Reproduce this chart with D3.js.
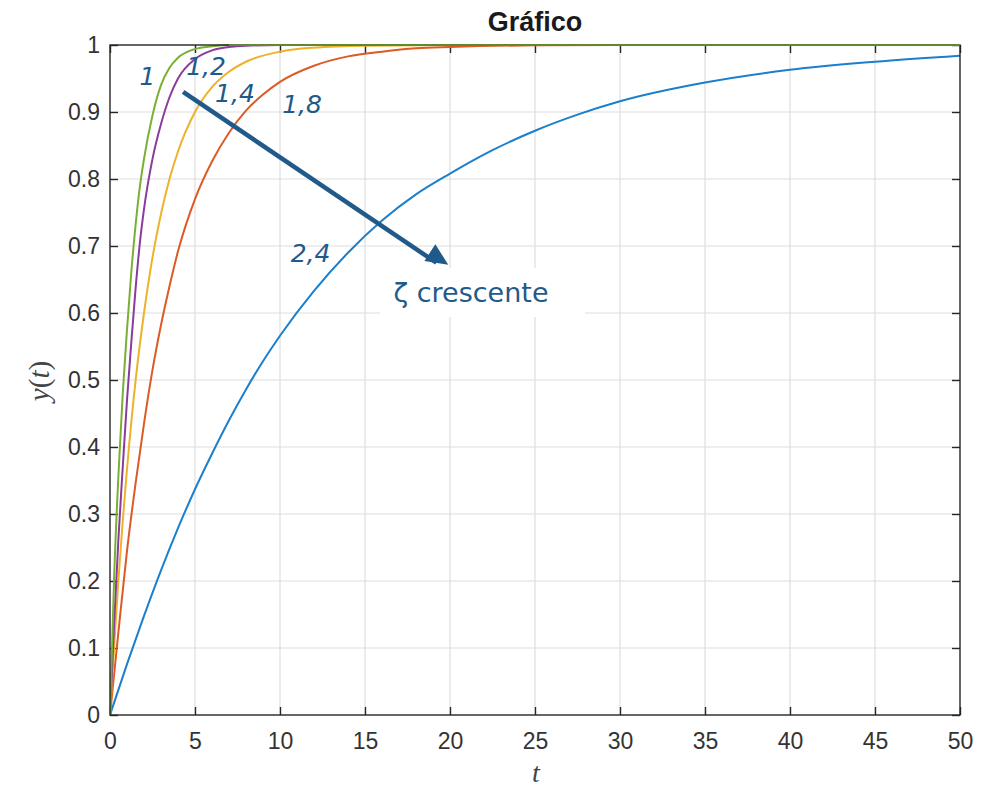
<!DOCTYPE html>
<html><head><meta charset="utf-8">
<script src="https://cdn.jsdelivr.net/npm/d3@7"></script>
<style>
html,body{margin:0;padding:0;background:#fff;}
svg{display:block;}
</style></head>
<body>
<svg id="chart" width="997" height="787"></svg>
<script>
// ---- data ----
const zetaLabels = ["1", "1,2", "1,4", "1,8", "2,4"];
const seriesColors = ["#7aaf35", "#8a3c9a", "#eeb22a", "#dc5a24", "#1a7fcc"];
const xTicks = [0,5,10,15,20,25,30,35,40,45,50];
const yTicks = [0,0.1,0.2,0.3,0.4,0.5,0.6,0.7,0.8,0.9,1];
const zeta10 = [[0,0],[0.12,0.1],[0.25,0.21],[0.5,0.36],[0.75,0.48],[1,0.575],[1.25,0.66],[1.5,0.73],[1.75,0.787],[2,0.83],[2.5,0.895],[3,0.94],[3.5,0.966],[4,0.981],[5,0.994],[6,0.998],[7,1],[50,1]];
const zeta12 = [[0,0],[0.25,0.14],[0.5,0.265],[0.75,0.37],[1,0.47],[1.25,0.555],[1.5,0.635],[1.75,0.703],[2,0.755],[2.5,0.83],[3,0.882],[3.5,0.922],[4,0.95],[5,0.979],[6,0.992],[7,0.997],[8,0.999],[10,1],[50,1]];
const zeta14 = [[0,0],[0.25,0.105],[0.5,0.203],[0.75,0.29],[1,0.367],[1.5,0.498],[2,0.6],[2.5,0.683],[3,0.748],[3.5,0.8],[4,0.841],[5,0.9],[6,0.937],[7,0.96],[8,0.975],[10,0.99],[12,0.996],[15,0.999],[20,1],[50,1]];
const zeta18 = [[0,0],[0.5,0.125],[1,0.245],[1.5,0.345],[2,0.435],[2.5,0.515],[3,0.582],[3.5,0.64],[4,0.692],[5,0.77],[6,0.826],[7,0.869],[8,0.902],[9,0.926],[10,0.945],[12,0.969],[14,0.983],[16,0.99],[18,0.995],[20,0.997],[25,0.9995],[30,1],[50,1]];
const zeta24 = [[0,0],[1,0.076],[2,0.148],[3,0.216],[4,0.279],[5,0.337],[6,0.39],[7,0.44],[8,0.486],[9,0.528],[10,0.566],[12,0.633],[14,0.69],[16,0.738],[18,0.777],[20,0.808],[22.5,0.843],[25,0.872],[27.5,0.896],[30,0.916],[35,0.944],[40,0.963],[45,0.975],[50,0.984]];
const allSeries = [zeta24, zeta18, zeta14, zeta12, zeta10];
const drawColors = [seriesColors[4], seriesColors[3], seriesColors[2], seriesColors[1], seriesColors[0]];
// label anchor positions in data units (t, y)
const labelT = [2.2, 5.65, 7.35, 11.3, 11.8];
const labelY = [0.94, 0.955, 0.915, 0.899, 0.676];

const svg = d3.select("#chart");
const L = 110, R = 960, T = 45, B = 715;
const x = d3.scaleLinear().domain([0,50]).range([L,R]);
const y = d3.scaleLinear().domain([0,1]).range([B,T]);
const axisColor = "#262626";

// grid
const g = svg.append("g");
g.selectAll("line.vx").data(xTicks.slice(1,-1)).enter().append("line")
  .attr("x1", d=>x(d)).attr("x2", d=>x(d)).attr("y1", T).attr("y2", B)
  .attr("stroke", "#dedede").attr("stroke-width", 1.2);
g.selectAll("line.hy").data(yTicks.slice(1,-1)).enter().append("line")
  .attr("y1", d=>y(d)).attr("y2", d=>y(d)).attr("x1", L).attr("x2", R)
  .attr("stroke", "#dedede").attr("stroke-width", 1.2);

// axes with ticks (inward)
const tickLen = 8;
const axB = svg.append("g").attr("transform", `translate(0,${B})`)
  .call(d3.axisBottom(x).tickValues(xTicks).tickSize(-tickLen).tickPadding(18).tickFormat(d3.format("d")));
const axT = svg.append("g").attr("transform", `translate(0,${T})`)
  .call(d3.axisTop(x).tickValues(xTicks).tickSize(-tickLen).tickFormat(""));
const axL = svg.append("g").attr("transform", `translate(${L},0)`)
  .call(d3.axisLeft(y).tickValues(yTicks).tickSize(-tickLen).tickPadding(10).tickFormat(d=> d===0?"0":d===1?"1":d3.format(".1f")(d)));
const axR = svg.append("g").attr("transform", `translate(${R},0)`)
  .call(d3.axisRight(y).tickValues(yTicks).tickSize(-tickLen).tickFormat(""));
[axB,axT,axL,axR].forEach(a=>{
  a.selectAll(".domain").remove();
  a.selectAll(".tick line").attr("stroke", axisColor).attr("stroke-width", 1.4);
  a.selectAll(".tick text").attr("fill", "#333").style("font-family","'Liberation Sans', Arial, sans-serif").style("font-size","23px");
});

// data lines
const line = d3.line().x(d=>x(d[0])).y(d=>y(d[1])).curve(d3.curveMonotoneX);
svg.append("clipPath").attr("id","pc").append("rect").attr("x",L).attr("y",T-2).attr("width",R-L).attr("height",B-T+2);
svg.append("g").attr("clip-path","url(#pc)").selectAll("path").data(allSeries).enter().append("path")
  .attr("d", line).attr("fill","none").attr("stroke",(d,i)=>drawColors[i]).attr("stroke-width",2);

// box
svg.append("rect").attr("x",L).attr("y",T).attr("width",R-L).attr("height",B-T)
  .attr("fill","none").attr("stroke",axisColor).attr("stroke-width",1.4);
// top edge overlapped by settled curves
svg.append("path").datum([[7,1],[50,1]]).attr("d", d3.line().x(d=>x(d[0])).y(d=>y(d[1])))
  .attr("stroke", seriesColors[0]).attr("stroke-width", 1.6).attr("fill","none").attr("opacity",0.8);

// title
svg.append("text").attr("x",535).attr("y",31).attr("text-anchor","middle")
  .style("font-family","'Liberation Sans', Arial, sans-serif").style("font-weight","bold").style("font-size","27px")
  .attr("fill","#1a1a1a").text("Gráfico");

// axis labels
svg.append("text").attr("x",536).attr("y",782).attr("text-anchor","middle")
  .style("font-family","'Liberation Serif', serif").style("font-style","italic").style("font-size","28px")
  .attr("fill","#444").text("t");
const yl = svg.append("text").attr("transform","translate(49,381) rotate(-90)").attr("text-anchor","middle")
  .style("font-family","'Liberation Serif', serif").style("font-size","29px").attr("fill","#444");
yl.append("tspan").style("font-style","italic").text("y");
yl.append("tspan").text("(");
yl.append("tspan").style("font-style","italic").text("t");
yl.append("tspan").text(")");

// annotations
const annColor = "#1f5a8a";
const annFont = "'DejaVu Sans', sans-serif";
svg.selectAll("text.zl").data(zetaLabels).enter().append("text")
  .attr("x",(d,i)=>x(labelT[i])).attr("y",(d,i)=>y(labelY[i])).attr("text-anchor","middle")
  .style("font-family",annFont).style("font-style","oblique").style("font-size","25px")
  .attr("fill",annColor).text(d=>d);

// arrow
const a0 = [4.3, 0.93], a1 = [19.2, 0.675];
svg.append("line").attr("x1",x(a0[0])).attr("y1",y(a0[1])).attr("x2",x(a1[0])).attr("y2",y(a1[1]))
  .attr("stroke",annColor).attr("stroke-width",4.5);
const tip = [x(19.9), y(0.672)];
const ang = Math.atan2(tip[1]-y(a0[1]), tip[0]-x(a0[0]));
const hl = 22, hw = 10;
const bx = tip[0]-hl*Math.cos(ang), by = tip[1]-hl*Math.sin(ang);
svg.append("polygon").attr("points", [
  tip, [bx + hw*Math.sin(ang), by - hw*Math.cos(ang)], [bx - hw*Math.sin(ang), by + hw*Math.cos(ang)]
].map(p=>p.join(",")).join(" ")).attr("fill",annColor);

// label box
svg.append("rect").attr("x",380).attr("y",268).attr("width",205).attr("height",49).attr("fill","#fff");
svg.append("text").attr("x",471).attr("y",302).attr("text-anchor","middle")
  .style("font-family",annFont).style("font-size","27px").attr("fill",annColor).text("ζ crescente");
</script>
</body></html>
